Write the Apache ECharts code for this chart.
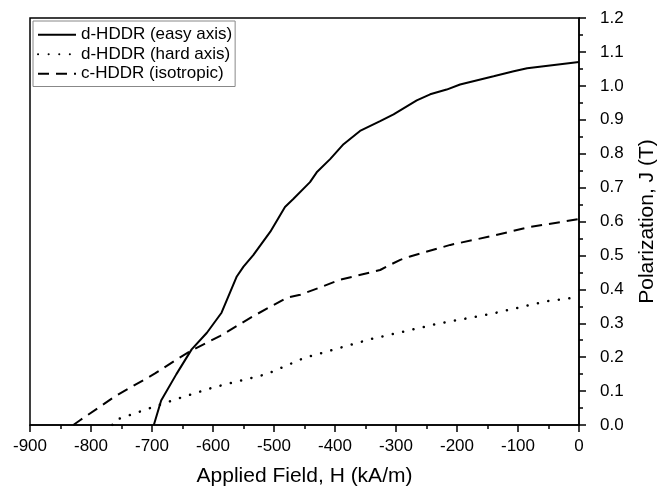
<!DOCTYPE html>
<html>
<head>
<meta charset="utf-8">
<script src="https://cdn.jsdelivr.net/npm/echarts@6/dist/echarts.min.js"></script>
<style>html,body{margin:0;padding:0;background:#fff}#c{width:666px;height:492px}</style>
</head>
<body>
<div id="c"></div>
<script>
const seriesNames = ['d-HDDR (easy axis)', 'd-HDDR (hard axis)', 'c-HDDR (isotropic)'];
const xTicks = [-900, -800, -700, -600, -500, -400, -300, -200, -100, 0];
const yTicks = [0.0, 0.1, 0.2, 0.3, 0.4, 0.5, 0.6, 0.7, 0.8, 0.9, 1.0, 1.1, 1.2];

const easyH = [-697, -685, -660, -635, -610, -586, -561, -550, -534, -506, -482, -468, -441, -430, -408, -386, -359, -326, -304, -266, -244, -217, -195, -140, -107, -85, 0];
const easyJ = [0, 0.072, 0.150, 0.223, 0.272, 0.331, 0.438, 0.467, 0.501, 0.570, 0.643, 0.667, 0.716, 0.745, 0.784, 0.828, 0.867, 0.896, 0.916, 0.957, 0.975, 0.989, 1.004, 1.028, 1.043, 1.052, 1.070];

const hardH = [-765, -761, -690, -659, -599, -512, -449, -424, -342, -233, -143, -53, 0];
const hardJ = [0, 0.014, 0.058, 0.077, 0.111, 0.150, 0.199, 0.211, 0.253, 0.298, 0.328, 0.365, 0.377];

const isoH = [-829, -818, -760, -695, -659, -635, -588, -534, -479, -457, -424, -392, -326, -310, -293, -277, -211, -146, -80, 0];
const isoJ = [0, 0.014, 0.085, 0.152, 0.194, 0.220, 0.263, 0.321, 0.375, 0.384, 0.406, 0.428, 0.457, 0.472, 0.487, 0.497, 0.531, 0.556, 0.584, 0.607];

const zip = (a, b) => a.map((v, i) => [v, b[i]]);
const FONT = 'Liberation Sans, Arial, sans-serif';

const chart = echarts.init(document.getElementById('c'), null, {renderer: 'canvas'});
chart.setOption({
  animation: false,
  backgroundColor: '#fff',
  grid: {left: 30, right: 87, top: 18, bottom: 64, show: true, borderColor: '#000', borderWidth: 1.5, backgroundColor: 'transparent'},
  legend: {
    show: true, left: 33, top: 21, orient: 'vertical',
    borderColor: '#888', borderWidth: 1, padding: [4, 3, 3, 4],
    itemWidth: 38, itemHeight: 14, itemGap: 0,
    itemStyle: {opacity: 0},
    textStyle: {fontFamily: FONT, fontSize: 17, color: '#000', lineHeight: 19.5},
    data: seriesNames
  },
  xAxis: {
    type: 'value', min: xTicks[0], max: xTicks[xTicks.length - 1], interval: 100,
    name: 'Applied Field, H (kA/m)', nameLocation: 'middle', nameGap: 41,
    nameTextStyle: {fontFamily: FONT, fontSize: 21, color: '#000'},
    axisLine: {show: true, onZero: false, lineStyle: {color: '#000', width: 1.5}},
    axisTick: {show: true, inside: false, length: 7, lineStyle: {color: '#000', width: 1.5}},
    minorTick: {show: true, splitNumber: 2, length: 4, lineStyle: {color: '#000', width: 1.5}},
    splitLine: {show: false},
    axisLabel: {fontFamily: FONT, fontSize: 17, color: '#000', margin: 13}
  },
  yAxis: {
    type: 'value', position: 'right', min: yTicks[0], max: yTicks[yTicks.length - 1], interval: 0.1,
    name: 'Polarization, J (T)', nameLocation: 'middle', nameGap: 58, nameRotate: 90,
    nameTextStyle: {fontFamily: FONT, fontSize: 21, color: '#000'},
    axisLine: {show: true, onZero: false, lineStyle: {color: '#000', width: 1.5}},
    axisTick: {show: true, inside: false, length: 7, lineStyle: {color: '#000', width: 1.5}},
    minorTick: {show: true, splitNumber: 2, length: 4, lineStyle: {color: '#000', width: 1.5}},
    splitLine: {show: false},
    axisLabel: {fontFamily: FONT, fontSize: 17, color: '#000', margin: 21, formatter: v => v.toFixed(1)}
  },
  series: [
    {name: seriesNames[0], type: 'line', data: zip(easyH, easyJ), symbol: 'none', smooth: false,
     lineStyle: {color: '#000', width: 2}, itemStyle: {color: '#000'}},
    {name: seriesNames[1], type: 'line', data: zip(hardH, hardJ), symbol: 'none', smooth: false,
     lineStyle: {color: '#000', width: 2.5, type: [0.1, 10.5], cap: 'round'}, itemStyle: {color: '#000'}},
    {name: seriesNames[2], type: 'line', data: zip(isoH, isoJ), symbol: 'none', smooth: false,
     lineStyle: {color: '#000', width: 2, type: [11, 7]}, itemStyle: {color: '#000'}}
  ]
});
</script>
</body>
</html>
